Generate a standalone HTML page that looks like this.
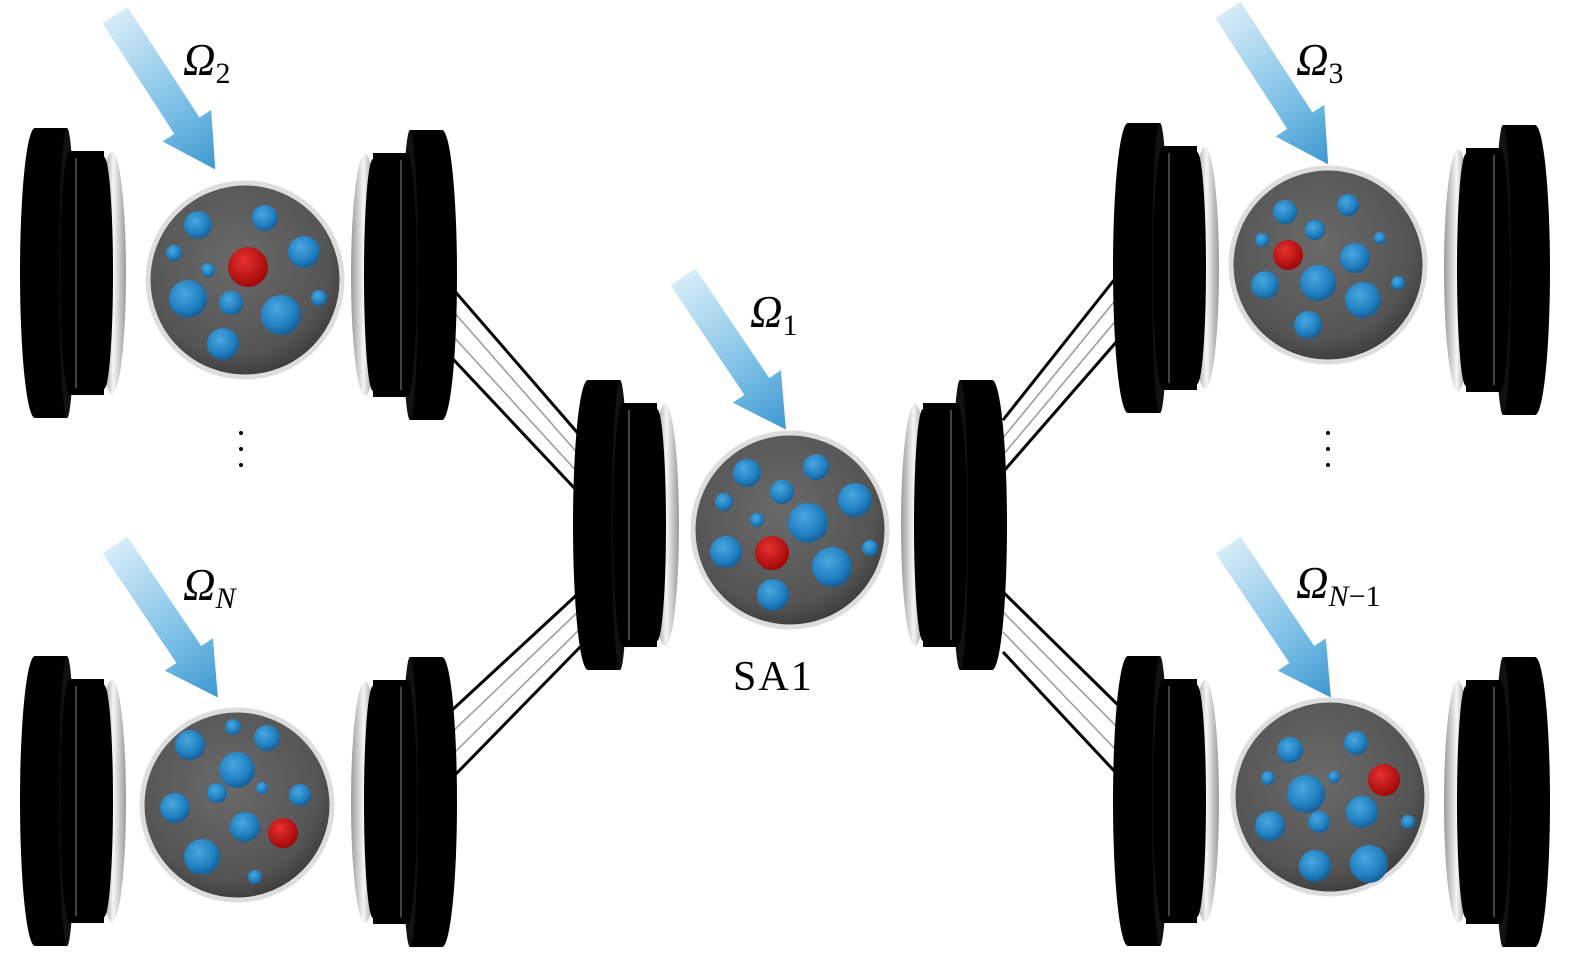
<!DOCTYPE html>
<html><head><meta charset="utf-8"><style>
html,body{margin:0;padding:0;background:#fff;}
svg{display:block;}
text{font-family:"Liberation Serif",serif;fill:#000;}
</style></head><body>
<svg width="1575" height="965" viewBox="0 0 1575 965" xmlns="http://www.w3.org/2000/svg">
<defs>
<linearGradient id="silver" x1="0" y1="0" x2="1" y2="0">
<stop offset="0" stop-color="#666"/><stop offset="0.55" stop-color="#f6f6f6"/><stop offset="1" stop-color="#9a9a9a"/>
</linearGradient>
<radialGradient id="sph" cx="0.45" cy="0.4" r="0.6">
<stop offset="0" stop-color="#6a6a6a"/><stop offset="0.8" stop-color="#555"/><stop offset="1" stop-color="#3e3e3e"/>
</radialGradient>
<radialGradient id="blue" cx="0.4" cy="0.35" r="0.65">
<stop offset="0" stop-color="#4aa7e0"/><stop offset="0.7" stop-color="#1f7fc0"/><stop offset="1" stop-color="#175f99"/>
</radialGradient>
<radialGradient id="red" cx="0.4" cy="0.35" r="0.65">
<stop offset="0" stop-color="#e83030"/><stop offset="1" stop-color="#a00808"/>
</radialGradient>
<linearGradient id="arr" x1="0" y1="0" x2="1" y2="0">
<stop offset="0" stop-color="#d6ecf8"/><stop offset="0.6" stop-color="#7cc0e6"/><stop offset="1" stop-color="#3d97d0"/>
</linearGradient>
<g id="mir">
<ellipse cx="15" cy="145" rx="15" ry="145" fill="#000"/>
<rect x="15" y="0" width="32" height="290" fill="#000"/>
<ellipse cx="47" cy="145" rx="8" ry="145" fill="#111"/>
<ellipse cx="92" cy="145" rx="14" ry="121" fill="url(#silver)"/>
<ellipse cx="50" cy="145" rx="10" ry="122" fill="#000"/>
<rect x="50" y="23" width="34" height="244" fill="#000"/>
<ellipse cx="84" cy="145" rx="9" ry="116" fill="#000"/>
<path d="M56 30 L56 260" stroke="#444" stroke-width="2"/>
</g>
<g id="ar">
<polygon points="0,-15 132,-15 132,-29 184,0 132,29 132,15 0,15" fill="url(#arr)"/>
</g>
</defs>

<g stroke="#000" stroke-width="3" fill="none">
<line x1="452" y1="288" x2="582" y2="438"/><line x1="452" y1="358" x2="578" y2="492"/>
<line x1="450" y1="712" x2="582" y2="590"/><line x1="455" y1="775" x2="585" y2="642"/>
<line x1="1003" y1="420" x2="1118" y2="275"/><line x1="1003" y1="472" x2="1118" y2="340"/>
<line x1="1003" y1="592" x2="1118" y2="705"/><line x1="1003" y1="652" x2="1118" y2="775"/>
</g>
<g stroke="#999" stroke-width="1.5" fill="none">
<line x1="452" y1="310" x2="580" y2="456"/><line x1="452" y1="335" x2="579" y2="474"/>
<line x1="451" y1="733" x2="583" y2="607"/><line x1="453" y1="754" x2="584" y2="625"/>
<line x1="1003" y1="438" x2="1118" y2="297"/><line x1="1003" y1="455" x2="1118" y2="318"/>
<line x1="1003" y1="612" x2="1118" y2="728"/><line x1="1003" y1="632" x2="1118" y2="752"/>
</g>

<use href="#mir" transform="translate(20,128)"/>
<use href="#mir" transform="translate(20,656)"/>
<use href="#mir" transform="translate(573,380)"/>
<use href="#mir" transform="translate(1113,123)"/>
<use href="#mir" transform="translate(1113,656)"/>
<use href="#mir" transform="translate(457,130) scale(-1,1)"/>
<use href="#mir" transform="translate(457,657) scale(-1,1)"/>
<use href="#mir" transform="translate(1007,380) scale(-1,1)"/>
<use href="#mir" transform="translate(1550,125) scale(-1,1)"/>
<use href="#mir" transform="translate(1550,657) scale(-1,1)"/>

<g>
<circle cx="245" cy="280" r="97" fill="url(#sph)" stroke="#ddd" stroke-width="5"/>
<circle cx="237" cy="805" r="95" fill="url(#sph)" stroke="#ddd" stroke-width="5"/>
<circle cx="790" cy="530" r="97" fill="url(#sph)" stroke="#ddd" stroke-width="5"/>
<circle cx="1328" cy="265" r="97" fill="url(#sph)" stroke="#ddd" stroke-width="5"/>
<circle cx="1330" cy="797" r="97" fill="url(#sph)" stroke="#ddd" stroke-width="5"/>
</g>
<g fill="url(#blue)">
<circle cx="198" cy="225" r="14"/><circle cx="265" cy="218" r="13"/><circle cx="174" cy="253" r="8"/><circle cx="208" cy="270" r="7"/><circle cx="304" cy="252" r="16"/><circle cx="188" cy="299" r="19"/><circle cx="231" cy="303" r="12"/><circle cx="319" cy="298" r="8"/><circle cx="281" cy="315" r="20"/><circle cx="223" cy="344" r="16"/>
<circle cx="747" cy="473" r="14"/><circle cx="816" cy="467" r="13"/><circle cx="724" cy="502" r="9"/><circle cx="782" cy="492" r="12"/><circle cx="757" cy="520" r="7"/><circle cx="808" cy="523" r="20"/><circle cx="855" cy="500" r="17"/><circle cx="726" cy="552" r="16"/><circle cx="832" cy="567" r="20"/><circle cx="870" cy="548" r="8"/><circle cx="773" cy="595" r="16"/>
<circle cx="1285" cy="212" r="12"/><circle cx="1348" cy="205" r="11"/><circle cx="1262" cy="240" r="7"/><circle cx="1315" cy="230" r="10"/><circle cx="1380" cy="238" r="6"/><circle cx="1355" cy="258" r="15"/><circle cx="1318" cy="283" r="18"/><circle cx="1265" cy="285" r="14"/><circle cx="1363" cy="300" r="18"/><circle cx="1398" cy="283" r="7"/><circle cx="1308" cy="325" r="14"/>
<circle cx="190" cy="745" r="15"/><circle cx="233" cy="727" r="8"/><circle cx="267" cy="738" r="13"/><circle cx="237" cy="770" r="18"/><circle cx="175" cy="808" r="15"/><circle cx="217" cy="793" r="10"/><circle cx="262" cy="788" r="6"/><circle cx="300" cy="795" r="11"/><circle cx="245" cy="827" r="15"/><circle cx="202" cy="857" r="18"/><circle cx="255" cy="877" r="7"/>
<circle cx="1290" cy="750" r="13"/><circle cx="1356" cy="743" r="12"/><circle cx="1268" cy="778" r="7"/><circle cx="1306" cy="794" r="19"/><circle cx="1334" cy="777" r="6"/><circle cx="1362" cy="812" r="16"/><circle cx="1319" cy="822" r="11"/><circle cx="1270" cy="826" r="15"/><circle cx="1408" cy="822" r="7"/><circle cx="1315" cy="866" r="16"/><circle cx="1369" cy="864" r="19"/>
</g>
<g fill="url(#red)">
<circle cx="248" cy="267" r="20"/><circle cx="772" cy="553" r="17"/><circle cx="1288" cy="255" r="15"/><circle cx="283" cy="833" r="15"/><circle cx="1384" cy="780" r="16"/>
</g>

<use href="#ar" transform="translate(115,15) rotate(57)"/>
<use href="#ar" transform="translate(683,277) rotate(56)"/>
<use href="#ar" transform="translate(1228,10) rotate(57)"/>
<use href="#ar" transform="translate(115,545) rotate(56)"/>
<use href="#ar" transform="translate(1228,545) rotate(56)"/>

<text x="183" y="75" font-size="45" font-style="italic">Ω<tspan font-size="30" font-style="normal" dy="8">2</tspan></text>
<text x="750" y="327" font-size="45" font-style="italic">Ω<tspan font-size="30" font-style="normal" dy="8">1</tspan></text>
<text x="1296" y="75" font-size="45" font-style="italic">Ω<tspan font-size="30" font-style="normal" dy="8">3</tspan></text>
<text x="183" y="600" font-size="45" font-style="italic">Ω<tspan font-size="30" dy="8">N</tspan></text>
<text x="1296" y="598" font-size="45" font-style="italic">Ω<tspan font-size="30" dy="8">N</tspan><tspan font-size="30" font-style="normal">−1</tspan></text>
<text x="733" y="690" font-size="42" letter-spacing="2">SA1</text>
<g fill="#000">
<circle cx="241" cy="433" r="2"/><circle cx="241" cy="449" r="2"/><circle cx="241" cy="465" r="2"/>
<circle cx="1328" cy="433" r="2"/><circle cx="1328" cy="449" r="2"/><circle cx="1328" cy="465" r="2"/>
</g>
</svg>
</body></html>
